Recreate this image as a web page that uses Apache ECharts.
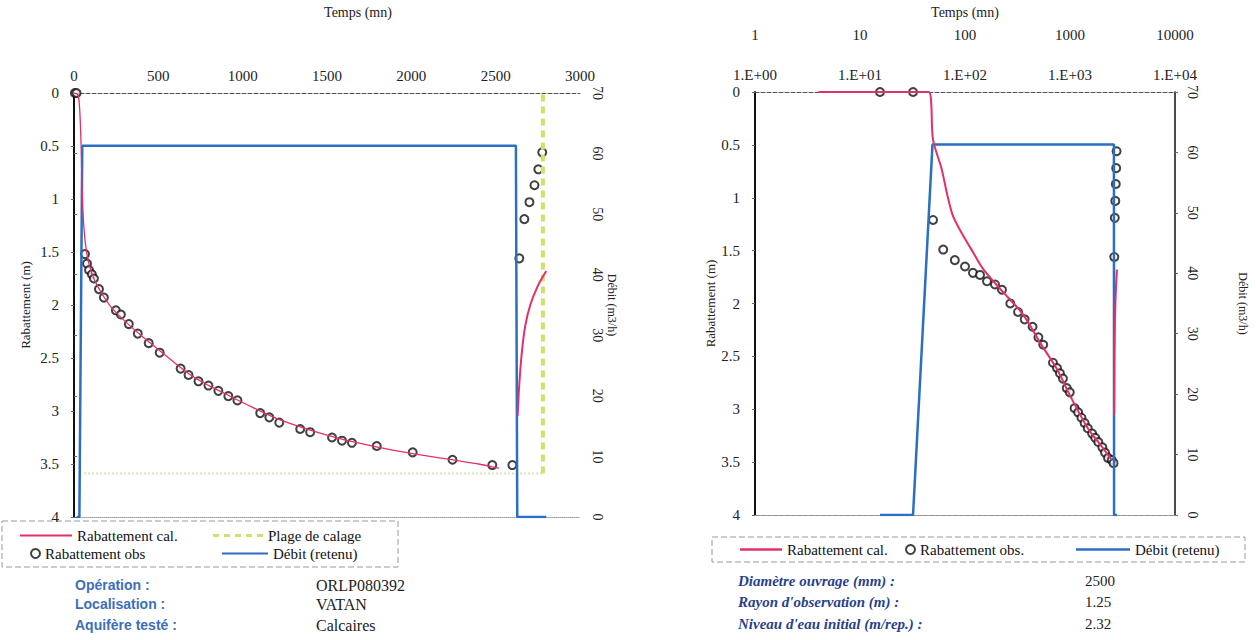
<!DOCTYPE html>
<html lang="fr">
<head>
<meta charset="UTF-8">
<title>Essai de pompage - VATAN</title>
<script src="https://cdn.jsdelivr.net/npm/echarts@6/dist/echarts.min.js"></script>
<style>
    * { margin: 0; padding: 0 }
    html, body { width: 100%; height: 100%; background: #fff; }
    #main { width: 1256px; height: 640px; }
</style>
</head>
<body>
<div id="main"></div>
<script type="text/javascript">
    /*---------- valeurs lues sur les deux graphiques (temps mn, rabattement m, debit m3/h) ----------*/
    // debit retenu, commun aux deux graphes
    var debit = [[15.5, 0], [32, 0], [49, 61.3], [2620, 61.3], [2628, 0], [2800, 0]];
    // plage de calage (graphe lineaire)
    var plage = [[60, 3.59], [2780, 3.59], [2780, 0]];
    // remontee (calcul + mesures), commune aux deux graphes
    var remonteeCal = [[2630, 3.05], [2640, 2.75], [2655, 2.45], [2675, 2.2], [2705, 2.0], [2750, 1.82], [2800, 1.68]];
    var remonteeObs = [[2599, 3.51], [2640, 1.56], [2670, 1.19], [2700, 1.03], [2730, 0.87], [2753, 0.72], [2776, 0.56]];

    // graphe lineaire (gauche)
    var linCal = [[0, 0], [25, 0.02], [38, 0.3], [45, 0.7], [50, 1.0], [58, 1.25], [70, 1.45], [90, 1.62],
        [120, 1.76], [160, 1.88], [220, 2.02], [300, 2.15], [400, 2.29], [500, 2.42], [600, 2.55], [700, 2.67],
        [800, 2.76], [900, 2.84], [1000, 2.92], [1200, 3.07], [1400, 3.18], [1600, 3.27], [1800, 3.34],
        [2000, 3.4], [2200, 3.45], [2400, 3.5], [2520, 3.54]];
    var linObs = [[5, 0], [15, 0], [65, 1.52], [77, 1.61], [89, 1.67], [106, 1.71], [118, 1.75], [148, 1.85],
        [177, 1.93], [248, 2.05], [278, 2.09], [325, 2.18], [378, 2.27], [443, 2.36], [508, 2.45], [632, 2.6],
        [679, 2.66], [738, 2.72], [797, 2.76], [856, 2.81], [915, 2.86], [969, 2.9], [1104, 3.02], [1158, 3.06],
        [1217, 3.11], [1341, 3.17], [1400, 3.2], [1530, 3.25], [1589, 3.28], [1648, 3.3], [1795, 3.33],
        [2008, 3.39], [2244, 3.46], [2480, 3.51]];

    // graphe semi-log (droite)
    var logCal = [[4, 0], [45, 0], [49.6, 0.45], [60, 0.73], [67, 0.95], [76, 1.16], [89, 1.3], [120, 1.52],
        [148, 1.67], [215, 1.86], [355, 2.1], [518, 2.37], [750, 2.62], [1000, 2.87], [1500, 3.19],
        [2000, 3.35], [2500, 3.48]];
    var logObs = [[15.5, 0], [32, 0], [49.6, 1.21], [62, 1.49], [80, 1.59], [100, 1.65], [119, 1.71], [139, 1.73],
        [162, 1.79], [193, 1.82], [225, 1.87], [270, 2.0], [320, 2.08], [370, 2.15], [440, 2.22], [500, 2.32],
        [556, 2.39], [688, 2.56], [752, 2.61], [802, 2.66], [857, 2.71], [931, 2.8], [995, 2.84], [1106, 2.99],
        [1195, 3.03], [1285, 3.08], [1378, 3.13], [1476, 3.18], [1625, 3.23], [1738, 3.27], [1860, 3.31],
        [2033, 3.36], [2154, 3.41], [2304, 3.46], [2496, 3.48]];

    var serif = "'Liberation Serif', 'Times New Roman', serif";
    var sans = "'Liberation Sans', Arial, sans-serif";
    var rouge = '#e2306a', bleu = '#2b6fc4', jaune = '#d3de6c';
    // icone en tirets pour la plage de calage (50 x 3)
    var tirets = 'path://M0,0h6v3h-6zM11,0h6v3h-6zM22,0h6v3h-6zM33,0h6v3h-6zM44,0h6v3h-6z';

    function brut(v) { return String(v); }
    function expo(v) {
        var e = Math.round(Math.log(v) / Math.LN10);
        return '1.E+' + (e < 10 ? '0' : '') + e;
    }
    function axeRabattement(grid, gap) {
        return {
            gridIndex: grid, type: 'value', position: 'left', inverse: true,
            min: 0, max: 4, interval: 0.5,
            name: 'Rabattement (m)', nameLocation: 'middle', nameGap: gap, nameRotate: 90,
            nameTextStyle: {fontFamily: serif, fontSize: 13, color: '#222'},
            axisLine: {show: true, lineStyle: {color: '#111', width: 2}},
            axisTick: {show: true, length: 3, lineStyle: {color: '#666'}},
            axisLabel: {fontFamily: serif, fontSize: 15, color: '#222', margin: 15, formatter: brut},
            splitLine: {show: false}
        };
    }
    function axeDebit(grid, gap) {
        return {
            gridIndex: grid, type: 'value', position: 'right',
            min: 0, max: 70, interval: 10,
            name: 'Débit (m3/h)', nameLocation: 'middle', nameGap: gap, nameRotate: -90,
            nameTextStyle: {fontFamily: serif, fontSize: 12, color: '#222'},
            axisLine: {show: true, lineStyle: {color: '#111', width: 1.5}},
            axisTick: {show: true, length: 3, lineStyle: {color: '#666'}},
            axisLabel: {fontFamily: serif, fontSize: 14, color: '#222', rotate: -90, margin: 10, formatter: brut},
            splitLine: {show: false}
        };
    }
    function legende(nom, x, y, w, h, icone) {
        return {
            data: [nom], left: x, top: y, itemWidth: w, itemHeight: h, itemGap: 4, padding: 0,
            icon: icone, selectedMode: false,
            textStyle: {fontFamily: serif, fontSize: 15, color: '#111'}
        };
    }

    var myChart = echarts.init(document.getElementById('main'), null, {renderer: 'svg'});
    myChart.setOption({
        animation: false,
        backgroundColor: '#fff',
        textStyle: {fontFamily: serif},
        grid: [
            {left: 74, top: 90, width: 506, height: 427},
            {left: 755, top: 89, width: 420, height: 426}
        ],
        xAxis: [
            {
                gridIndex: 0, type: 'value', position: 'top', min: 0, max: 3000, interval: 500,
                name: 'Temps (mn)', nameLocation: 'middle', nameGap: 74,
                nameTextStyle: {fontFamily: serif, fontSize: 14, color: '#222', padding: [0, 0, 0, 62]},
                axisLine: {show: true, lineStyle: {color: '#555', type: 'dashed'}},
                axisTick: {show: false},
                axisLabel: {fontFamily: serif, fontSize: 15, color: '#222', margin: 10, formatter: brut},
                splitLine: {show: false}
            },
            {
                gridIndex: 0, type: 'value', position: 'bottom', min: 0, max: 3000,
                axisLine: {show: true, lineStyle: {color: '#999', type: 'dotted'}},
                axisTick: {show: false}, axisLabel: {show: false}, splitLine: {show: false}
            },
            {
                gridIndex: 1, type: 'log', position: 'top', min: 1, max: 10000,
                axisLine: {show: true, lineStyle: {color: '#555', type: 'dashed'}},
                axisTick: {show: false}, minorTick: {show: false},
                axisLabel: {fontFamily: serif, fontSize: 15, color: '#222', margin: 10, formatter: expo},
                splitLine: {show: false}
            },
            {
                gridIndex: 1, type: 'log', position: 'top', offset: 39, min: 1, max: 10000,
                name: 'Temps (mn)', nameLocation: 'middle', nameGap: 34,
                nameTextStyle: {fontFamily: serif, fontSize: 14, color: '#222'},
                axisLine: {show: true, lineStyle: {color: '#777', type: 'dashed'}},
                axisTick: {show: false},
                axisLabel: {fontFamily: serif, fontSize: 15, color: '#222', margin: 11, formatter: brut},
                splitLine: {show: false}
            },
            {
                gridIndex: 1, type: 'log', position: 'bottom', min: 1, max: 10000,
                axisLine: {show: true, lineStyle: {color: '#999', type: 'dotted'}},
                axisTick: {show: false}, axisLabel: {show: false}, splitLine: {show: false}
            }
        ],
        yAxis: [axeRabattement(0, 42), axeDebit(0, 26), axeRabattement(1, 38), axeDebit(1, 62)],
        legend: [
            legende('Rabattement cal.', 20, 528, 52, 2, 'rect'),
            legende('Plage de calage', 213, 528, 50, 3, tirets),
            legende('Rabattement obs', 30, 546, 9, 9, 'emptyCircle'),
            legende('Débit (retenu)', 222, 546, 46, 2, 'rect'),
            legende('Rabattement cal.', 740, 542, 42, 2.5, 'rect'),
            legende('Rabattement obs.', 905, 542, 9, 9, 'emptyCircle'),
            legende('Débit (retenu)', 1076, 542, 54, 2.5, 'rect')
        ],
        series: [
            /*----- graphe lineaire -----*/
            {
                name: 'Plage de calage', type: 'line', xAxisIndex: 0, yAxisIndex: 0, data: plage.slice(0, 2),
                symbol: 'none', lineStyle: {color: '#dde0b8', width: 2, type: 'dotted'}, itemStyle: {color: jaune}
            },
            {
                name: 'Plage de calage', type: 'line', xAxisIndex: 0, yAxisIndex: 0, data: plage.slice(1),
                symbol: 'none', lineStyle: {color: jaune, width: 4, type: [7, 5]}, itemStyle: {color: jaune}
            },
            {
                name: 'Débit (retenu)', type: 'line', xAxisIndex: 0, yAxisIndex: 1, data: debit,
                symbol: 'none', lineStyle: {color: bleu, width: 2.5}, itemStyle: {color: bleu}
            },
            {
                name: 'Rabattement cal.', type: 'line', xAxisIndex: 0, yAxisIndex: 0, data: linCal,
                symbol: 'none', smooth: 0.3, lineStyle: {color: rouge, width: 1.3}, itemStyle: {color: rouge}
            },
            {
                name: 'Rabattement cal.', type: 'line', xAxisIndex: 0, yAxisIndex: 0, data: remonteeCal,
                symbol: 'none', smooth: 0.3, lineStyle: {color: rouge, width: 2}, itemStyle: {color: rouge}
            },
            {
                name: 'Rabattement obs', type: 'scatter', xAxisIndex: 0, yAxisIndex: 0,
                data: linObs.concat(remonteeObs),
                symbol: 'emptyCircle', symbolSize: 8, itemStyle: {color: '#111', borderWidth: 1.5}
            },
            /*----- graphe semi-log -----*/
            {
                name: 'Débit (retenu)', type: 'line', xAxisIndex: 2, yAxisIndex: 3, data: debit,
                symbol: 'none', lineStyle: {color: bleu, width: 2.5}, itemStyle: {color: bleu}
            },
            {
                name: 'Rabattement cal.', type: 'line', xAxisIndex: 2, yAxisIndex: 2, data: logCal,
                symbol: 'none', smooth: 0.3, lineStyle: {color: rouge, width: 2}, itemStyle: {color: rouge}
            },
            {
                name: 'Rabattement cal.', type: 'line', xAxisIndex: 2, yAxisIndex: 2, data: remonteeCal,
                symbol: 'none', lineStyle: {color: rouge, width: 2}, itemStyle: {color: rouge}
            },
            {
                name: 'Rabattement obs.', type: 'scatter', xAxisIndex: 2, yAxisIndex: 2,
                data: logObs.concat(remonteeObs),
                symbol: 'emptyCircle', symbolSize: 8, itemStyle: {color: '#111', borderWidth: 1.5}
            }
        ],
        graphic: [
            // cadres des legendes
            {type: 'rect', shape: {x: 2, y: 521, width: 396, height: 46}, silent: true,
                style: {fill: 'none', stroke: '#999', lineWidth: 1, lineDash: [6, 3]}},
            {type: 'rect', shape: {x: 712, y: 537, width: 533, height: 25}, silent: true,
                style: {fill: 'none', stroke: '#999', lineWidth: 1, lineDash: [6, 3]}},
            // informations gauche
            {type: 'group', left: 75, top: 578, children: [
                {type: 'text', y: 0, style: {text: 'Opération :', fontFamily: sans, fontWeight: 'bold', fontSize: 14, fill: '#3c6fb8'}},
                {type: 'text', y: 19, style: {text: 'Localisation :', fontFamily: sans, fontWeight: 'bold', fontSize: 14, fill: '#3c6fb8'}},
                {type: 'text', y: 40, style: {text: 'Aquifère testé :', fontFamily: sans, fontWeight: 'bold', fontSize: 14, fill: '#3c6fb8'}}
            ]},
            {type: 'group', left: 316, top: 577, children: [
                {type: 'text', y: 0, style: {text: 'ORLP080392', fontFamily: serif, fontSize: 16, fill: '#222'}},
                {type: 'text', y: 19, style: {text: 'VATAN', fontFamily: serif, fontSize: 16, fill: '#222'}},
                {type: 'text', y: 40, style: {text: 'Calcaires', fontFamily: serif, fontSize: 16, fill: '#222'}}
            ]},
            // informations droite
            {type: 'group', left: 738, top: 573, children: [
                {type: 'text', y: 0, style: {text: 'Diamètre ouvrage (mm) :', fontFamily: serif, fontStyle: 'italic', fontWeight: 'bold', fontSize: 15, fill: '#2a3f8c'}},
                {type: 'text', y: 21, style: {text: "Rayon d'observation (m) :", fontFamily: serif, fontStyle: 'italic', fontWeight: 'bold', fontSize: 15, fill: '#2a3f8c'}},
                {type: 'text', y: 43, style: {text: "Niveau d'eau initial (m/rep.) :", fontFamily: serif, fontStyle: 'italic', fontWeight: 'bold', fontSize: 15, fill: '#2a3f8c'}}
            ]},
            {type: 'group', left: 1085, top: 573, children: [
                {type: 'text', y: 0, style: {text: '2500', fontFamily: serif, fontSize: 15, fill: '#222'}},
                {type: 'text', y: 21, style: {text: '1.25', fontFamily: serif, fontSize: 15, fill: '#222'}},
                {type: 'text', y: 43, style: {text: '2.32', fontFamily: serif, fontSize: 15, fill: '#222'}}
            ]}
        ]
    });
</script>
</body>
</html>
